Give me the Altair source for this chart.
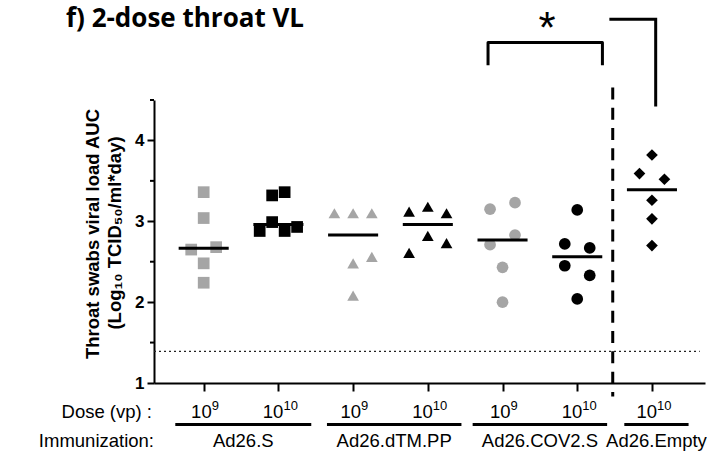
import altair as alt
import pandas as pd

# ---------------- data ----------------
group_ids = [1, 2, 3, 4, 5, 6, 7]
group_names = ["Ad26.S 10^9", "Ad26.S 10^10", "Ad26.dTM.PP 10^9", "Ad26.dTM.PP 10^10",
               "Ad26.COV2.S 10^9", "Ad26.COV2.S 10^10", "Ad26.Empty 10^10"]
group_shapes = ["square", "square", "triangle-up", "triangle-up", "circle", "circle", "diamond"]
group_colors = ["#a5a5a5", "#000000", "#a5a5a5", "#000000", "#a5a5a5", "#000000", "#000000"]
group_sizes = [137, 137, 150, 150, 95, 95, 165]

# throat swab viral load AUC per animal, and its scatter column (GraphPad layout)
vl_values = [
    [3.36, 3.04, 2.65, 2.68, 2.48, 2.24],
    [3.32, 3.36, 2.99, 2.88, 2.88, 2.93],
    [3.10, 3.10, 3.10, 2.56, 2.48, 2.08],
    [3.12, 3.18, 3.10, 2.82, 2.73, 2.61],
    [3.15, 3.23, 2.83, 2.71, 2.43, 2.00],
    [3.14, 2.72, 2.67, 2.45, 2.33, 2.04],
    [3.82, 3.59, 3.52, 3.26, 3.03, 2.70],
]
vl_columns = [
    [0, 0, -1, 1, 0, 0],
    [-0.5, 0.5, -0.5, -1.5, 0.5, 1.5],
    [-1.5, 0, 1.5, 1.5, 0, 0],
    [-1.5, 0, 1.5, 0, 1.5, -1.5],
    [-1, 1, 1, -1, 0, 0],
    [0, -1, 1, -1, 1, 0],
    [0, -1, 1, 0, 0, 0],
]
lod_value = 1.39

dose_exponents = ["9", "10", "9", "10", "9", "10", "10"]
immun_labels = ["Ad26.S", "Ad26.dTM.PP", "Ad26.COV2.S", "Ad26.Empty"]
immun_centers = [1.53, 3.55, 5.5, 7.06]
immun_halfwidths = [0.91, 0.9, 0.9, 0.43]

y_ticks = [1, 2, 3, 4]
y_minor = [1.5, 2.5, 3.5, 4.5]

bracket1_x = [4.806, 4.806, 6.337, 6.337]
bracket1_y = [4.93, 5.21, 5.21, 4.93]
bracket2_x = [6.43, 7.05, 7.05]
bracket2_y = [5.50, 5.50, 4.42]
star_x, star_y = 5.596, 5.36
divider_x, divider_top, divider_bottom = 6.475, 4.655, 0.834

# ---------------- tables ----------------
rows = []
for gid, name, vals, cols in zip(group_ids, group_names, vl_values, vl_columns):
    for v, c in zip(vals, cols):
        rows.append({"gid": gid, "group": name, "value": v, "col": c})
df = pd.DataFrame(rows)

dose_df = pd.DataFrame({"gid": group_ids, "exp": dose_exponents})

XMIN, XMAX = 0.335, 7.71
xscale = alt.Scale(domain=[XMIN, XMAX], nice=False, zero=False)
yscale = alt.Scale(domain=[1, 4.5], nice=False, zero=False)
FONT = "Liberation Sans"

xaxis = alt.Axis(values=group_ids, labels=False, tickSize=8, tickWidth=2,
                 tickColor="black", domainColor="black", domainWidth=2,
                 grid=False, title=None)
yaxis = alt.Axis(values=y_ticks, tickSize=7, tickWidth=2, tickColor="black",
                 domainColor="black", domainWidth=2, grid=False, title=None,
                 labelFont=FONT, labelFontSize=17, labelFontWeight="bold",
                 labelColor="black", labelPadding=3)


def X(field):
    return alt.X(field, scale=xscale, axis=xaxis)


def Y(field):
    return alt.Y(field, scale=yscale, axis=yaxis)


points = alt.Chart(df).transform_calculate(
    xpos="datum.gid + datum.col * 0.167"
).mark_point(filled=True, opacity=1, clip=False).encode(
    x=X("xpos:Q"),
    y=Y("value:Q"),
    shape=alt.Shape("group:N", scale=alt.Scale(domain=group_names, range=group_shapes), legend=None),
    color=alt.Color("group:N", scale=alt.Scale(domain=group_names, range=group_colors), legend=None),
    size=alt.Size("group:N", scale=alt.Scale(domain=group_names, range=group_sizes), legend=None),
)

medians = alt.Chart(df).transform_aggregate(
    med="median(value)", groupby=["gid"]
).transform_calculate(
    x1="datum.gid - 0.335", x2="datum.gid + 0.335"
).mark_rule(color="black", strokeWidth=3).encode(
    x=X("x1:Q"), x2="x2:Q", y=Y("med:Q"),
)

minor = alt.Chart(pd.DataFrame({"v": y_minor})).mark_rule(color="black", strokeWidth=2).encode(
    y=Y("v:Q"), x=alt.value(0), x2=alt.value(-4)
)

lod = alt.Chart(pd.DataFrame({"y": [lod_value], "x1": [XMIN], "x2": [7.64]})).mark_rule(
    color="#222222", strokeWidth=1.3, strokeDash=[2, 3]
).encode(x=X("x1:Q"), x2="x2:Q", y=Y("y:Q"))

divider = alt.Chart(pd.DataFrame({"x": [divider_x], "y1": [divider_top], "y2": [divider_bottom]})).mark_rule(
    color="black", strokeWidth=3, strokeDash=[12, 8.3], clip=False
).encode(x=X("x:Q"), y=Y("y1:Q"), y2="y2:Q")

b1 = alt.Chart(pd.DataFrame({"x": bracket1_x, "y": bracket1_y, "i": range(4)})).mark_line(
    color="black", strokeWidth=3, strokeJoin="round", clip=False
).encode(x=X("x:Q"), y=Y("y:Q"), order="i:Q")

b2 = alt.Chart(pd.DataFrame({"x": bracket2_x, "y": bracket2_y, "i": range(3)})).mark_line(
    color="black", strokeWidth=3, strokeJoin="miter", clip=False
).encode(x=X("x:Q"), y=Y("y:Q"), order="i:Q")

star = alt.Chart(pd.DataFrame({"x": [star_x], "y": [star_y], "t": ["*"]})).mark_text(
    font=FONT, fontSize=44, color="black", baseline="middle", align="center", clip=False
).encode(x=X("x:Q"), y=Y("y:Q"), text="t:N")

# dose labels: "10" with a raised exponent
dose_base9 = alt.Chart(dose_df).transform_filter("datum.exp == '9'").mark_text(
    font=FONT, fontSize=18.5, color="black", baseline="alphabetic", align="right", dx=8, clip=False
).encode(x=X("gid:Q"), y=alt.value(318), text=alt.value("10"))
dose_exp9 = alt.Chart(dose_df).transform_filter("datum.exp == '9'").mark_text(
    font=FONT, fontSize=13, color="black", baseline="alphabetic", align="left", dx=8, clip=False
).encode(x=X("gid:Q"), y=alt.value(310), text="exp:N")
dose_base10 = alt.Chart(dose_df).transform_filter("datum.exp == '10'").mark_text(
    font=FONT, fontSize=18.5, color="black", baseline="alphabetic", align="right", dx=5, clip=False
).encode(x=X("gid:Q"), y=alt.value(318), text=alt.value("10"))
dose_exp10 = alt.Chart(dose_df).transform_filter("datum.exp == '10'").mark_text(
    font=FONT, fontSize=13, color="black", baseline="alphabetic", align="left", dx=5, clip=False
).encode(x=X("gid:Q"), y=alt.value(310), text="exp:N")

underline_df = pd.DataFrame({
    "x1": [c - h for c, h in zip(immun_centers, immun_halfwidths)],
    "x2": [c + h for c, h in zip(immun_centers, immun_halfwidths)],
})
underlines = alt.Chart(underline_df).mark_rule(color="black", strokeWidth=3, clip=False).encode(
    x=X("x1:Q"), x2="x2:Q", y=alt.value(324.5)
)

immun_text = alt.Chart(pd.DataFrame({"x": immun_centers, "t": immun_labels})).mark_text(
    font=FONT, fontSize=18.5, color="black", baseline="alphabetic", align="center", clip=False
).encode(x=X("x:Q"), y=alt.value(347), text="t:N")

dose_title = alt.Chart(alt.Data(values=[{}])).mark_text(
    font=FONT, fontSize=18.5, color="black", baseline="alphabetic", align="right"
).encode(x=alt.value(-2), y=alt.value(318), text=alt.value("Dose (vp) :"))
immun_title = alt.Chart(alt.Data(values=[{}])).mark_text(
    font=FONT, fontSize=18.5, color="black", baseline="alphabetic", align="right"
).encode(x=alt.value(0), y=alt.value(347), text=alt.value("Immunization:"))

ytitle1 = alt.Chart(alt.Data(values=[{}])).mark_text(
    font=FONT, fontSize=18.5, fontWeight="bold", color="black", angle=270,
    baseline="middle", align="center"
).encode(x=alt.value(-61), y=alt.value(134), text=alt.value("Throat swabs viral load AUC"))
ytitle2 = alt.Chart(alt.Data(values=[{}])).mark_text(
    font=FONT, fontSize=18.5, fontWeight="bold", color="black", angle=270,
    baseline="middle", align="center"
).encode(x=alt.value(-39), y=alt.value(133),
         text=alt.value("(Log\u2081\u2080 TCID\u2085\u2080/ml*day)"))

title = alt.Chart(alt.Data(values=[{}])).mark_text(
    font="Open Sans", fontSize=26, fontWeight="bold", color="black",
    baseline="alphabetic", align="left"
).encode(x=alt.value(-88), y=alt.value(-73), text=alt.value("f) 2-dose throat VL"))

chart = alt.layer(
    points, medians, lod, divider, minor, b1, b2, star,
    dose_base9, dose_exp9, dose_base10, dose_exp10, underlines, immun_text,
    dose_title, immun_title, ytitle1, ytitle2, title
).properties(
    width=551, height=283,
    autosize=alt.AutoSizeParams(type="none"),
    padding={"left": 154, "top": 100, "right": 2, "bottom": 76},
).configure_view(stroke=None).configure_axisY(
    labelFont=FONT, labelFontSize=17, labelFontWeight="bold", labelColor="black"
)

chart.save("out.html", embed_options={"renderer": "svg", "actions": False})
